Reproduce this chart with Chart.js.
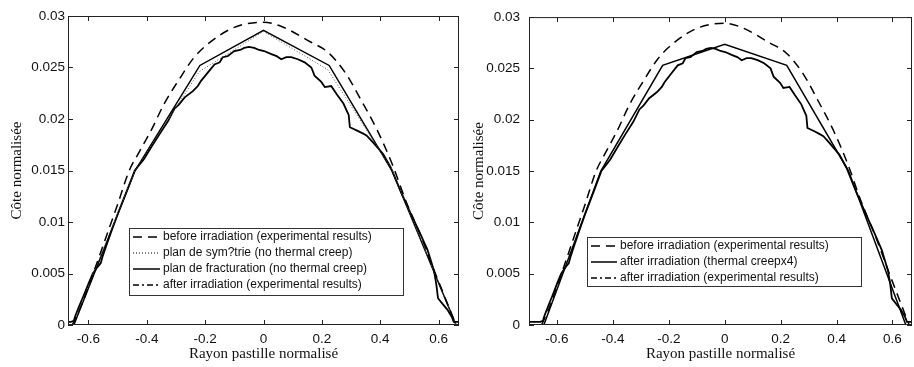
<!DOCTYPE html>
<html>
<head>
<meta charset="utf-8">
<script src="https://cdn.jsdelivr.net/npm/chart.js@4/dist/chart.umd.min.js"></script>
<style>
  body { margin: 0; background: #fff; }
  canvas { position: absolute; top: 0; }
</style>
</head>
<body>
<canvas id="leftChart" width="462" height="367" style="left:0"></canvas>
<canvas id="rightChart" width="452" height="367" style="left:462px"></canvas>
<script>
// tick values / labels
const xTicks = [-0.6, -0.4, -0.2, 0, 0.2, 0.4, 0.6];
const xTickLabels = ['-0.6', '-0.4', '-0.2', '0', '0.2', '0.4', '0.6'];
const yTicks = [0, 0.005, 0.01, 0.015, 0.02, 0.025, 0.03];
const yTickLabels = ['0', '0.005', '0.01', '0.015', '0.02', '0.025', '0.03'];

// before irradiation (experimental results)
const beforeX = [-0.655, -0.62, -0.58, -0.54, -0.50, -0.46, -0.43, -0.385, -0.34, -0.29, -0.24, -0.19, -0.10, 0,
                 0.06, 0.16, 0.22, 0.28, 0.335, 0.39, 0.44, 0.49, 0.54, 0.585, 0.63, 0.66];
const beforeY = [0, 0.0022, 0.0053, 0.0085, 0.0117, 0.0150, 0.0166, 0.0189, 0.0215, 0.0238, 0.0259, 0.0273, 0.0289, 0.0294,
                 0.0290, 0.0275, 0.0265, 0.0245, 0.0218, 0.0189, 0.0157, 0.0119, 0.0086, 0.0053, 0.0021, 0];

// plan de symetrie (no thermal creep)
const symX = [-0.655, -0.44, -0.22, 0, 0.22, 0.44, 0.66];
const symY = [0, 0.0150, 0.0246, 0.0285, 0.0248, 0.0151, 0];

// plan de fracturation (no thermal creep)
const fracX = [-0.65, -0.44, -0.218, 0, 0.225, 0.44, 0.66];
const fracY = [0, 0.0150, 0.0252, 0.0286, 0.0252, 0.0150, 0];

// after irradiation (thermal creep x4)
const creepX = [-0.647, -0.443, -0.222, 0, 0.222, 0.443, 0.648];
const creepY = [0, 0.0150, 0.0253, 0.02735, 0.0253, 0.0150, 0];

// after irradiation (experimental results)
const afterX = [-0.700, -0.680, -0.660, -0.650, -0.646, -0.632, -0.617, -0.600, -0.585, -0.570, -0.558, -0.552,
                -0.540, -0.520, -0.498, -0.470, -0.441, -0.410, -0.384, -0.355, -0.327, -0.305, -0.290, -0.270,
                -0.242, -0.225, -0.214, -0.191, -0.168, -0.150, -0.140, -0.123, -0.100, -0.080, -0.066, -0.050,
                -0.032, -0.015, 0.002, 0.027, 0.045, 0.061, 0.078, 0.095, 0.118, 0.141, 0.164, 0.175, 0.198,
                0.210, 0.232, 0.251, 0.274, 0.287, 0.292, 0.296, 0.319, 0.340, 0.353, 0.376, 0.410, 0.436,
                0.470, 0.505, 0.535, 0.562, 0.584, 0.592, 0.598, 0.615, 0.630, 0.645, 0.652, 0.670];
const afterY = [0.0003, 0.0003, 0.0003, 0.0004, 0.0008, 0.0018, 0.0028, 0.0040, 0.0050, 0.0056, 0.0060, 0.0066,
                0.0076, 0.0092, 0.0109, 0.0129, 0.0150, 0.0161, 0.0173, 0.0186, 0.0198, 0.0210, 0.0214, 0.0221,
                0.0227, 0.0232, 0.0237, 0.0245, 0.0253, 0.0255, 0.0260, 0.0261, 0.0266, 0.0267, 0.0269, 0.0270,
                0.0269, 0.0267, 0.0266, 0.0263, 0.0261, 0.0258, 0.0260, 0.0260, 0.0258, 0.0255, 0.0250, 0.0242, 0.0236,
                0.0231, 0.0232, 0.0224, 0.0215, 0.0207, 0.0204, 0.0192, 0.0189, 0.0186, 0.0184, 0.0177, 0.0166, 0.0153,
                0.0130, 0.0108, 0.0090, 0.0073, 0.0053, 0.0040, 0.0026, 0.0020, 0.0015, 0.0008, 0.0003, 0.0003];

const pts = (xs, ys) => xs.map((x, i) => ({ x: x, y: ys[i] }));

// frame with inward ticks on all four sides, like the original plot
const framePlugin = {
  id: 'frame',
  afterDatasetsDraw(chart) {
    const { ctx, chartArea: a, scales: { x, y } } = chart;
    ctx.save();
    ctx.strokeStyle = '#222';
    ctx.lineWidth = 1;
    ctx.strokeRect(a.left + 0.5, a.top + 0.5, a.right - a.left - 1, a.bottom - a.top - 1);
    ctx.beginPath();
    x.ticks.forEach(t => {
      const px = Math.round(x.getPixelForValue(t.value)) + 0.5;
      ctx.moveTo(px, a.bottom); ctx.lineTo(px, a.bottom - 5);
      ctx.moveTo(px, a.top); ctx.lineTo(px, a.top + 5);
    });
    y.ticks.forEach(t => {
      const py = Math.round(y.getPixelForValue(t.value)) + 0.5;
      ctx.moveTo(a.left, py); ctx.lineTo(a.left + 5, py);
      ctx.moveTo(a.right, py); ctx.lineTo(a.right - 5, py);
    });
    ctx.stroke();
    ctx.restore();
  }
};

// boxed legend inside the plot area
const boxLegendPlugin = {
  id: 'boxLegend',
  afterDraw(chart, args, opts) {
    const ctx = chart.ctx;
    const sets = chart.data.datasets;
    ctx.save();
    ctx.fillStyle = '#fff';
    ctx.fillRect(opts.left, opts.top, opts.width, opts.height);
    ctx.strokeStyle = '#333';
    ctx.lineWidth = 1;
    ctx.strokeRect(opts.left + 0.5, opts.top + 0.5, opts.width, opts.height);
    ctx.font = '12px "Liberation Sans", Arial, sans-serif';
    ctx.textBaseline = 'middle';
    sets.forEach((ds, i) => {
      const cy = opts.firstRow + i * opts.rowGap;
      ctx.strokeStyle = ds.borderColor;
      ctx.lineWidth = 1.5;
      ctx.setLineDash(ds.legendDash || []);
      ctx.beginPath();
      ctx.moveTo(opts.sampleFrom, cy);
      ctx.lineTo(opts.sampleTo, cy);
      ctx.stroke();
      ctx.setLineDash([]);
      ctx.fillStyle = '#111';
      ctx.fillText(ds.label, opts.textX, cy);
    });
    ctx.restore();
  }
};

function makeScales(xMin, xMax, yWidth, yPad) {
  return {
    x: {
      type: 'linear', min: xMin, max: xMax,
      afterBuildTicks: s => { s.ticks = xTicks.map(v => ({ value: v })); },
      afterFit: s => { s.height = 42; },
      grid: { display: false, drawTicks: false },
      border: { display: false },
      ticks: {
        padding: 6, color: '#111',
        font: { family: '"Liberation Sans", Arial, sans-serif', size: 13.5 },
        callback: (v, i) => xTickLabels[i]
      },
      title: {
        display: true, text: 'Rayon pastille normalisé', color: '#111',
        font: { family: '"Liberation Serif", "Times New Roman", serif', size: 15 },
        padding: { top: 0, bottom: 4 }
      }
    },
    y: {
      type: 'linear', min: 0, max: 0.03,
      afterBuildTicks: s => { s.ticks = yTicks.map(v => ({ value: v })); },
      afterFit: s => { s.width = yWidth; },
      grid: { display: false, drawTicks: false },
      border: { display: false },
      ticks: {
        padding: yPad, color: '#111',
        font: { family: '"Liberation Sans", Arial, sans-serif', size: 13.5 },
        callback: (v, i) => yTickLabels[i]
      },
      title: {
        display: true, text: 'Côte normalisée', color: '#111',
        font: { family: '"Liberation Serif", "Times New Roman", serif', size: 15 },
        padding: { top: 8, bottom: 0 }
      }
    }
  };
}

const lineBase = { pointRadius: 0, tension: 0, fill: false, borderColor: '#000' };
const smooth = { cubicInterpolationMode: 'monotone' };

new Chart(document.getElementById('leftChart').getContext('2d'), {
  type: 'line',
  data: {
    datasets: [
      { ...lineBase, ...smooth, label: 'before irradiation (experimental results)', data: pts(beforeX, beforeY),
        borderWidth: 1.5, borderDash: [9, 6], legendDash: [9, 6] },
      { ...lineBase, label: 'plan de sym?trie (no thermal creep)', data: pts(symX, symY),
        borderWidth: 1, borderColor: '#555', borderDash: [1, 2], legendDash: [1, 2] },
      { ...lineBase, label: 'plan de fracturation (no thermal creep)', data: pts(fracX, fracY),
        borderWidth: 1.5 },
      { ...lineBase, label: 'after irradiation (experimental results)', data: pts(afterX, afterY),
        borderWidth: 1.8, legendDash: [6, 3, 2, 3] }
    ]
  },
  options: {
    responsive: false,
    animation: false,
    devicePixelRatio: 1,
    layout: { padding: { top: 16, right: 3, left: 0, bottom: 0 } },
    scales: makeScales(-0.67, 0.67, 68, 3),
    plugins: {
      legend: { display: false },
      tooltip: { enabled: false },
      boxLegend: { left: 129, top: 228, width: 274, height: 67, firstRow: 237, rowGap: 16,
                   sampleFrom: 133, sampleTo: 160, textX: 163 }
    }
  },
  plugins: [framePlugin, boxLegendPlugin]
});

new Chart(document.getElementById('rightChart').getContext('2d'), {
  type: 'line',
  data: {
    datasets: [
      { ...lineBase, ...smooth, label: 'before irradiation (experimental results)', data: pts(beforeX, beforeY),
        borderWidth: 1.5, borderDash: [9, 6], legendDash: [9, 6] },
      { ...lineBase, label: 'after irradiation (thermal creepx4)', data: pts(creepX, creepY),
        borderWidth: 1.5 },
      { ...lineBase, label: 'after irradiation (experimental results)', data: pts(afterX, afterY),
        borderWidth: 1.8, legendDash: [6, 3, 2, 3] }
    ]
  },
  options: {
    responsive: false,
    animation: false,
    devicePixelRatio: 1,
    layout: { padding: { top: 16, right: 2, left: 0, bottom: 0 } },
    scales: makeScales(-0.7, 0.67, 67, 9),
    plugins: {
      legend: { display: false },
      tooltip: { enabled: false },
      boxLegend: { left: 125, top: 237, width: 274, height: 49, firstRow: 246, rowGap: 16,
                   sampleFrom: 129, sampleTo: 155, textX: 158 }
    }
  },
  plugins: [framePlugin, boxLegendPlugin]
});
</script>
</body>
</html>
